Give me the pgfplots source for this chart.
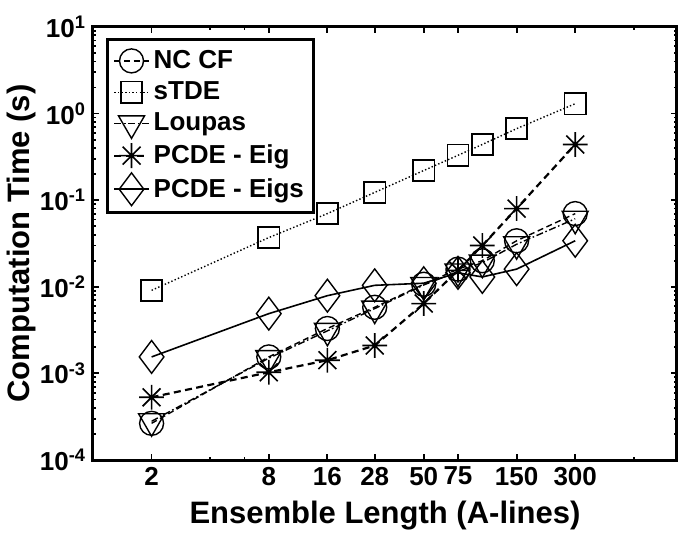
\documentclass[border=0pt]{standalone}
\usepackage{fontspec}
\setmainfont{Liberation Sans}
\usepackage{pgfplots}
\pgfplotsset{compat=1.18}
\usetikzlibrary{calc}

% matlab-like 8 spoke asterisk
\pgfdeclareplotmark{mstar}{%
  \pgfpathmoveto{\pgfqpoint{0pt}{\pgfplotmarksize}}%
  \pgfpathlineto{\pgfqpoint{0pt}{-\pgfplotmarksize}}%
  \pgfpathmoveto{\pgfqpoint{\pgfplotmarksize}{0pt}}%
  \pgfpathlineto{\pgfqpoint{-\pgfplotmarksize}{0pt}}%
  \pgfpathmoveto{\pgfqpoint{.72\pgfplotmarksize}{.72\pgfplotmarksize}}%
  \pgfpathlineto{\pgfqpoint{-.72\pgfplotmarksize}{-.72\pgfplotmarksize}}%
  \pgfpathmoveto{\pgfqpoint{-.72\pgfplotmarksize}{.72\pgfplotmarksize}}%
  \pgfpathlineto{\pgfqpoint{.72\pgfplotmarksize}{-.72\pgfplotmarksize}}%
  \pgfusepathqstroke}

\begin{document}
\begin{tikzpicture}
\begin{axis}[
    name=ax,
    scale only axis,
    width=292pt, height=216.5pt,
    xmode=log, ymode=log,
    xmin=1, xmax=1000,
    ymin=1e-4, ymax=10,
    xtick={2,8,16,28,50,75,150,300},
    xticklabels={2,8,16,28,50,75,150,300},
    minor xtick={4,6,600},
    ytick={1e-4,1e-3,1e-2,1e-1,1,10},
    yticklabels={10\textsuperscript{-4},10\textsuperscript{-3},10\textsuperscript{-2},10\textsuperscript{-1},10\textsuperscript{0},10\textsuperscript{1}},
    minor ytick={2e-4,3e-4,4e-4,5e-4,6e-4,7e-4,8e-4,9e-4,
                 2e-3,3e-3,4e-3,5e-3,6e-3,7e-3,8e-3,9e-3,
                 2e-2,3e-2,4e-2,5e-2,6e-2,7e-2,8e-2,9e-2,
                 0.2,0.3,0.4,0.5,0.6,0.7,0.8,0.9,
                 2,3,4,5,6,7,8,9},
    tick align=inside,
    major tick length=3pt,
    minor tick length=1.6pt,
    every tick/.style={black, line width=0.9pt},
    axis line style={line width=1.5pt},
    tick label style={font=\fontsize{13}{15}\selectfont\bfseries},
    xlabel={Ensemble Length (A-lines)},
    ylabel={Computation Time (s)},
    label style={font=\fontsize{15.5}{18}\selectfont\bfseries},
    xlabel style={at={(axis description cs:0.5,-0.128)}, anchor=center},
    ylabel style={at={(axis description cs:-0.122,0.5)}, anchor=center},
    legend cell align=left,
    legend style={at={(axis description cs:0.022,0.975)}, anchor=north west,
        draw=black, line width=1.5pt, font=\fontsize{13}{15}\selectfont\bfseries,
        inner xsep=3pt, inner ysep=3.5pt, row sep=1.15pt,
        nodes={inner sep=2pt}},
    legend image code/.code={%
        \draw[mark repeat=2,mark phase=2] plot coordinates {(0cm,0cm) (0.3cm,0cm) (0.6cm,0cm)};},
]
\addplot[black, line width=0.7pt, dash pattern=on 3pt off 1.8pt,
    mark=o, mark size=6pt, mark options={solid, line width=0.7pt}] coordinates {
    (2,2.65e-4) (8,1.55e-3) (16,3.3e-3) (28,5.8e-3) (50,1.07e-2)
    (75,1.6e-2) (100,2.0e-2) (150,3.4e-2) (300,7.0e-2)
};
\addlegendentry{NC CF}
\addplot[black, line width=0.7pt, dash pattern=on 0.7pt off 1.1pt,
    mark=square, mark size=5.3pt, mark options={solid, line width=0.8pt}] coordinates {
    (2,9.1e-3) (8,3.7e-2) (16,7.0e-2) (28,0.123) (50,0.22)
    (75,0.33) (100,0.44) (150,0.67) (300,1.3)
};
\addlegendentry{sTDE}
\addplot[black, line width=0.7pt, dash pattern=on 3.5pt off 1.3pt on 0.8pt off 1.3pt,
    mark=triangle, mark size=7.5pt, mark options={solid, rotate=180, line width=0.7pt}] coordinates {
    (2,2.8e-4) (8,1.5e-3) (16,3.1e-3) (28,5.6e-3) (50,1.05e-2)
    (75,1.5e-2) (100,1.9e-2) (150,3.1e-2) (300,6.1e-2)
};
\addlegendentry{Loupas}
\addplot[black, line width=1.1pt, dash pattern=on 3.5pt off 2.2pt,
    mark=mstar, mark size=6.2pt, mark options={solid, line width=0.8pt}] coordinates {
    (2,5.3e-4) (8,1.03e-3) (16,1.42e-3) (28,2.1e-3) (50,6.4e-3)
    (75,1.55e-2) (100,3.0e-2) (150,8.0e-2) (300,0.44)
};
\addlegendentry{PCDE - Eig}
\addplot[black, line width=0.8pt, solid,
    mark=diamond, mark size=8.2pt, mark options={solid, line width=0.7pt}] coordinates {
    (2,1.55e-3) (8,4.9e-3) (16,7.9e-3) (28,1.04e-2) (50,1.1e-2)
    (75,1.45e-2) (100,1.3e-2) (150,1.6e-2) (300,3.4e-2)
};
\addlegendentry{PCDE - Eigs}
\end{axis}
\pgfresetboundingbox
\path[use as bounding box] ($(ax.south west)+(-46.5pt,-39.5pt)$) rectangle ($(ax.north east)+(7pt,13.5pt)$);
\end{tikzpicture}
\end{document}
